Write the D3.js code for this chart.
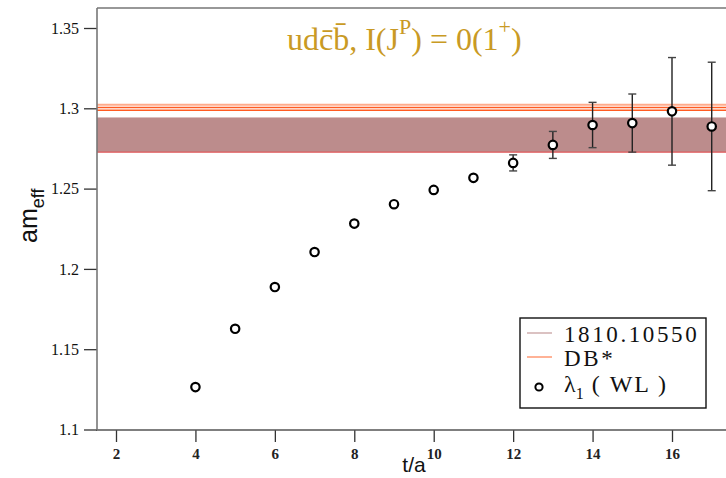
<!DOCTYPE html>
<html>
<head>
<meta charset="utf-8">
<script src="https://cdn.jsdelivr.net/npm/d3@7"></script>
<style>
  body { margin: 0; background: #fff; }
  svg { display: block; }
</style>
</head>
<body>
<figure style="margin:0"></figure>
<script>
// data
const tValues = [4, 5, 6, 7, 8, 9, 10, 11, 12, 13, 14, 15, 16, 17];
const meffValues = [1.1264, 1.1627, 1.1887, 1.2105, 1.2282, 1.2403, 1.2492, 1.2567, 1.2660, 1.2772, 1.2896, 1.2908, 1.2981, 1.2887];
const meffErrors = [0.0004, 0.0005, 0.0005, 0.0005, 0.0006, 0.0007, 0.0008, 0.0012, 0.0050, 0.0084, 0.0141, 0.0181, 0.0335, 0.0400];
const bandLo = 1.2727, bandHi = 1.2943;          // 1810.10550
const dbLines = [1.3022, 1.3005, 1.2988];          // DB*
const xTicks = [2, 4, 6, 8, 10, 12, 14, 16];
const yTicks = [1.1, 1.15, 1.2, 1.25, 1.3, 1.35];
const yTickLabels = ["1.1", "1.15", "1.2", "1.25", "1.3", "1.35"];
const legendLabels = ["1810.10550", "DB*"];

const width = 726, height = 478;
const padL = 97, padT = 8, padB = 430;

const svg = d3.select("figure").append("svg")
    .attr("width", width).attr("height", height);

const x = d3.scaleLinear().domain([2, 16]).range([116, 672]);
const y = d3.scaleLinear().domain([1.1, 1.35]).range([429.5, 28]);
const xMax = x.invert(width + 5);

const data = tValues.map((t, i) => ({t: t, m: meffValues[i], e: meffErrors[i]}));

// 1810.10550 band
svg.append("rect")
    .attr("x", padL).attr("y", y(bandHi))
    .attr("width", x(xMax) - padL).attr("height", y(bandLo) - y(bandHi))
    .attr("fill", "#bc8c8c");
svg.append("line")
    .attr("x1", padL).attr("x2", x(xMax))
    .attr("y1", y(bandLo)).attr("y2", y(bandLo))
    .attr("stroke", "#e0585a").attr("stroke-width", 1.2);

// DB* lines
svg.selectAll(".db").data(dbLines).enter().append("line")
    .attr("class", "db")
    .attr("x1", padL).attr("x2", x(xMax))
    .attr("y1", d => y(d)).attr("y2", d => y(d))
    .attr("stroke", (d, i) => i == 0 ? "#ffab8c" : "#ff5c22")
    .attr("stroke-width", (d, i) => i == 0 ? 2 : 1.3);

// frame + axes
svg.append("line").attr("x1", padL).attr("x2", width).attr("y1", padT).attr("y2", padT)
    .attr("stroke", "#333").attr("stroke-width", 1.2);

const xAxis = svg.append("g")
    .attr("transform", "translate(0," + padB + ")")
    .call(d3.axisBottom(x).tickValues(xTicks).tickSize(12).tickPadding(6).tickFormat(d3.format("d")));
xAxis.select(".domain").remove();
xAxis.append("line").attr("x1", padL - 1).attr("x2", width).attr("stroke", "#555").attr("stroke-width", 1.5);

const yAxis = svg.append("g")
    .attr("transform", "translate(" + padL + ",0)")
    .call(d3.axisLeft(y).tickValues(yTicks).tickSize(13).tickPadding(5)
        .tickFormat((d, i) => yTickLabels[i]));
yAxis.select(".domain").remove();
yAxis.append("line").attr("y1", padT).attr("y2", padB).attr("stroke", "#777").attr("stroke-width", 1.6);

svg.selectAll(".tick line").attr("stroke", "#333").attr("stroke-width", 1.3);
svg.selectAll(".tick text")
    .attr("fill", "#111")
    .style("font-family", "'Liberation Serif', serif")
    .style("font-size", "16px");
xAxis.selectAll(".tick text").style("font-size", "15px").style("font-weight", "bold").attr("fill", "#222");

// error bars and points
const pts = svg.append("g").selectAll("g").data(data).enter().append("g");
pts.append("line")
    .attr("x1", d => x(d.t)).attr("x2", d => x(d.t))
    .attr("y1", d => y(d.m - d.e)).attr("y2", d => y(d.m + d.e))
    .attr("stroke", "#222").attr("stroke-width", 1.4);
[-1, 1].forEach(s => {
    pts.append("line")
        .attr("x1", d => x(d.t) - 4).attr("x2", d => x(d.t) + 4)
        .attr("y1", d => y(d.m + s * d.e)).attr("y2", d => y(d.m + s * d.e))
        .attr("stroke", "#444").attr("stroke-width", 1.4);
});
pts.append("circle")
    .attr("cx", d => x(d.t)).attr("cy", d => y(d.m)).attr("r", 4.2)
    .attr("fill", "#fff").attr("stroke", "#000").attr("stroke-width", 2.2);

// title
const title = svg.append("text")
    .attr("x", 287).attr("y", 50)
    .attr("fill", "#c99a24")
    .style("font-family", "'Liberation Serif', serif")
    .style("font-size", "32px");
title.append("tspan").text("udc\u0304b\u0304, I(J");
title.append("tspan").text("P").attr("dy", -16).style("font-size", "22px");
title.append("tspan").text(") = 0(1").attr("dy", 16);
title.append("tspan").text("+").attr("dy", -16).style("font-size", "22px");
title.append("tspan").text(")").attr("dy", 16);

// axis labels
const yl = svg.append("text")
    .attr("transform", "translate(37,243) rotate(-90)")
    .style("font-family", "'Liberation Sans', sans-serif")
    .style("font-size", "25px").attr("fill", "#111");
yl.append("tspan").text("am");
yl.append("tspan").text("eff").attr("dy", 7).style("font-size", "18px");

svg.append("text")
    .attr("x", 414).attr("y", 472).attr("text-anchor", "middle")
    .style("font-family", "'Liberation Sans', sans-serif")
    .style("font-size", "21px").attr("fill", "#111")
    .text("t/a");

// legend
const lg = svg.append("g");
lg.append("rect").attr("x", 520).attr("y", 318).attr("width", 186).attr("height", 90)
    .attr("fill", "#fff").attr("stroke", "#111").attr("stroke-width", 1.4);
const legendColors = ["#c49a9a", "#ff7f50"];
legendLabels.forEach((lab, i) => {
    const ly = 333 + i * 24;
    lg.append("line").attr("x1", 527).attr("x2", 552).attr("y1", ly).attr("y2", ly)
        .attr("stroke", legendColors[i]).attr("stroke-width", 1.2);
    lg.append("text").attr("x", 564).attr("y", ly + 8.5)
        .style("font-family", "'Liberation Serif', serif")
        .style("font-size", "23px").style("letter-spacing", "2.6px").attr("fill", "#111")
        .text(lab);
});
lg.append("circle").attr("cx", 539).attr("cy", 387).attr("r", 3.6)
    .attr("fill", "#fff").attr("stroke", "#000").attr("stroke-width", 2);
const lt = lg.append("text").attr("x", 564).attr("y", 392)
    .style("font-family", "'Liberation Serif', serif")
    .style("font-size", "24px").attr("fill", "#111");
lt.append("tspan").text("\u03bb");
lt.append("tspan").text("1").attr("dy", 7).style("font-size", "16px");
lt.append("tspan").text(" ( WL )").attr("dy", -7).style("letter-spacing", "2px");
</script>
</body>
</html>
